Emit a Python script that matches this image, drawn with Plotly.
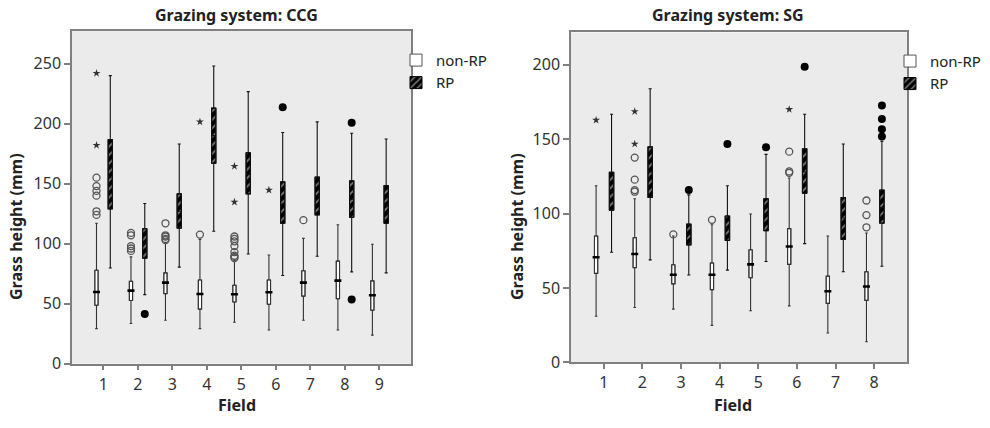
import plotly.graph_objects as go

# ---------------- data: CCG ----------------
ccg_fields = [1, 2, 3, 4, 5, 6, 7, 8, 9]
ccg_non_q1 = [48.7, 52.7, 58.4, 45.5, 51.4, 49.5, 56.3, 54.1, 44.6]
ccg_non_med = [59.7, 60.9, 67.6, 58.1, 57.9, 59.5, 67.6, 69.2, 57.0]
ccg_non_q3 = [77.9, 68.7, 75.7, 69.8, 65.4, 69.8, 77.4, 85.5, 69.0]
ccg_non_lo = [29.2, 33.5, 36.2, 29.2, 34.6, 28.1, 36.2, 28.1, 23.8]
ccg_non_hi = [117.0, 89.0, 101.0, 103.6, 86.5, 90.6, 104.4, 115.8, 99.5]

ccg_rp_q1 = [129.0, 88.0, 113.0, 167.0, 141.5, 117.0, 124.0, 122.0, 117.0]
ccg_rp_med = [155.0, 100.0, 127.0, 190.0, 158.0, 133.0, 140.0, 137.0, 132.0]
ccg_rp_q3 = [186.7, 112.5, 141.5, 213.0, 175.8, 151.5, 155.5, 152.3, 148.5]
ccg_rp_lo = [79.8, 57.6, 80.5, 110.4, 91.4, 73.5, 89.5, 76.5, 75.7]
ccg_rp_hi = [240.0, 133.5, 183.0, 248.0, 226.7, 192.6, 201.5, 192.0, 187.2]

ccg_circ_field = [1, 1, 1, 1, 1, 1, 2, 2, 2, 2, 2, 3, 3, 3, 3, 3, 4,
                  5, 5, 5, 5, 5, 5, 5, 5, 7]
ccg_circ_value = [155, 148, 144, 140, 127, 124, 109, 107, 98, 96, 94,
                  117, 107, 106, 104, 103, 107.6,
                  106, 104, 102, 98, 93, 90, 89, 88, 119.6]
ccg_star_field = [1, 1, 4, 5, 5, 6]
ccg_star_value = [242, 182, 201.5, 164.5, 134.7, 144.7]
ccg_dot_field = [2, 6, 8, 8]
ccg_dot_value = [41.4, 213.7, 200.7, 53.6]

# ---------------- data: SG ----------------
sg_fields = [1, 2, 3, 4, 5, 6, 7, 8]
sg_non_q1 = [59.8, 63.7, 52.8, 48.9, 56.9, 65.9, 39.7, 41.7]
sg_non_med = [70.7, 72.9, 58.9, 58.9, 65.9, 77.9, 47.8, 51.0]
sg_non_q3 = [84.9, 83.8, 65.6, 66.8, 75.7, 89.9, 58.0, 60.9]
sg_non_lo = [31.0, 36.9, 35.8, 24.9, 34.7, 38.0, 19.8, 13.9]
sg_non_hi = [118.7, 110.0, 84.9, 92.5, 99.7, 123.9, 84.9, 87.0]

sg_rp_q1 = [102.3, 110.8, 79.0, 82.0, 88.5, 113.7, 82.7, 93.6]
sg_rp_med = [115.0, 128.0, 86.0, 90.0, 100.0, 128.0, 97.0, 104.0]
sg_rp_q3 = [127.8, 144.8, 92.9, 98.4, 110.0, 143.5, 110.8, 115.8]
sg_rp_lo = [74.0, 68.9, 58.7, 62.0, 67.8, 79.8, 60.9, 64.6]
sg_rp_hi = [166.7, 183.9, 112.6, 118.7, 139.8, 166.7, 146.8, 148.6]

sg_circ_field = [2, 2, 2, 2, 3, 4, 6, 6, 6, 8, 8, 8]
sg_circ_value = [137.6, 122.8, 115.8, 114.7, 86, 95.8, 141.6, 128.3, 127.4,
                 108.8, 99, 90.8]
sg_star_field = [1, 2, 2, 6]
sg_star_value = [162.8, 168.6, 146.8, 170]
sg_dot_field = [3, 4, 5, 6, 8, 8, 8, 8]
sg_dot_value = [115.8, 146.8, 144.6, 198.7, 172.6, 163.6, 156.6, 151.8]

# ---------------- figure ----------------
W, H = 990, 428
FONT = "Noto Sans"
TXT = "#222222"
AXC = "#808080"
OFF = 0.2

fig = go.Figure()


def px(xp):
    return xp / W


def py(yp):
    return 1 - yp / H


def add_panel(fields, nq1, nmed, nq3, nlo, nhi, rq1, rmed, rq3, rlo, rhi,
              cf, cv, sf, sv, df, dv, xa, ya, leg, wn, wr):
    xn = [f - OFF for f in fields]
    xr = [f + OFF for f in fields]
    # box bodies as bars (for hatching and legend)
    fig.add_trace(go.Bar(
        x=xn, y=[b - a for a, b in zip(nq1, nq3)], base=nq1, width=wn,
        marker=dict(color="white", line=dict(color="#555555", width=1)),
        name="non-RP", legend=leg, xaxis=xa, yaxis=ya, showlegend=True))
    fig.add_trace(go.Bar(
        x=xr, y=[b - a for a, b in zip(rq1, rq3)], base=rq1, width=wr,
        marker=dict(color="black", line=dict(color="black", width=1),
                    pattern=dict(shape="/", fgcolor="white", bgcolor="black",
                                 size=6, solidity=0.3)),
        name="RP", legend=leg, xaxis=xa, yaxis=ya, showlegend=True))
    # whiskers
    fig.add_trace(go.Box(
        x=xn, q1=nq1, median=nmed, q3=nq3, lowerfence=nlo, upperfence=nhi,
        width=wn, whiskerwidth=0.8, fillcolor="rgba(0,0,0,0)",
        line=dict(color="#333333", width=1.1), boxpoints=False,
        xaxis=xa, yaxis=ya, showlegend=False, hoverinfo="skip"))
    fig.add_trace(go.Box(
        x=xr, q1=rq1, median=rmed, q3=rq3, lowerfence=rlo, upperfence=rhi,
        width=wr, whiskerwidth=0.7, fillcolor="rgba(0,0,0,0)",
        line=dict(color="#111111", width=1.1), boxpoints=False,
        xaxis=xa, yaxis=ya, showlegend=False, hoverinfo="skip"))
    # thick medians for non-RP
    fig.add_trace(go.Scatter(
        x=xn, y=nmed, mode="markers",
        marker=dict(symbol="line-ew-open", size=5, color="black",
                    line=dict(color="black", width=2.6)),
        xaxis=xa, yaxis=ya, showlegend=False, hoverinfo="skip"))
    # outliers
    fig.add_trace(go.Scatter(
        x=[f - OFF for f in cf], y=cv, mode="markers",
        marker=dict(symbol="circle-open", size=7, color="#555555",
                    line=dict(color="#555555", width=1.3)),
        xaxis=xa, yaxis=ya, showlegend=False, hoverinfo="skip"))
    fig.add_trace(go.Scatter(
        x=[f - OFF for f in sf], y=sv, mode="markers",
        marker=dict(symbol="star", size=6, color="#333333"),
        xaxis=xa, yaxis=ya, showlegend=False, hoverinfo="skip"))
    fig.add_trace(go.Scatter(
        x=[f + OFF for f in df], y=dv, mode="markers",
        marker=dict(symbol="circle", size=8, color="black"),
        xaxis=xa, yaxis=ya, showlegend=False, hoverinfo="skip"))


add_panel(ccg_fields, ccg_non_q1, ccg_non_med, ccg_non_q3, ccg_non_lo, ccg_non_hi,
          ccg_rp_q1, ccg_rp_med, ccg_rp_q3, ccg_rp_lo, ccg_rp_hi,
          ccg_circ_field, ccg_circ_value, ccg_star_field, ccg_star_value,
          ccg_dot_field, ccg_dot_value, "x", "y", "legend", 0.095, 0.125)
add_panel(sg_fields, sg_non_q1, sg_non_med, sg_non_q3, sg_non_lo, sg_non_hi,
          sg_rp_q1, sg_rp_med, sg_rp_q3, sg_rp_lo, sg_rp_hi,
          sg_circ_field, sg_circ_value, sg_star_field, sg_star_value,
          sg_dot_field, sg_dot_value, "x2", "y2", "legend2", 0.085, 0.115)

axis_common = dict(showline=True, mirror=True, linecolor=AXC, linewidth=1.5,
                   ticks="outside", tickcolor=AXC, tickwidth=1.5,
                   showgrid=False, zeroline=False,
                   tickfont=dict(family=FONT, size=16, color="#333333"))

fig.update_layout(
    width=W, height=H,
    margin=dict(l=0, r=0, t=0, b=0),
    paper_bgcolor="white", plot_bgcolor="#ebebeb",
    barmode="overlay", boxmode="overlay",
    font=dict(family=FONT, color=TXT),
    xaxis=dict(domain=[px(72), px(411)], range=[0.09, 9.92],
               tickvals=ccg_fields, ticklen=5, anchor="y", **axis_common),
    yaxis=dict(domain=[py(373.3), py(31.7)], range=[0, 277.3],
               tickvals=[0, 50, 100, 150, 200, 250], ticklen=6, anchor="x",
               **axis_common),
    xaxis2=dict(domain=[px(571), px(907)], range=[0.15, 8.85],
                tickvals=sg_fields, ticklen=5, anchor="y2", **axis_common),
    yaxis2=dict(domain=[py(372), py(33.3)], range=[0, 221.7],
                tickvals=[0, 50, 100, 150, 200], ticklen=6, anchor="x2",
                **axis_common),
    legend=dict(x=px(396), y=py(45), xanchor="left", yanchor="top",
                font=dict(family=FONT, size=15, color=TXT),
                bgcolor="rgba(0,0,0,0)", tracegroupgap=0),
    legend2=dict(x=px(890), y=py(46), xanchor="left", yanchor="top",
                 font=dict(family=FONT, size=15, color=TXT),
                 bgcolor="rgba(0,0,0,0)", tracegroupgap=0),
)

ann = []
ann.append(dict(text="<b>Grazing system: CCG</b>", x=px(236), y=py(15),
                font=dict(size=16)))
ann.append(dict(text="<b>Grazing system: SG</b>", x=px(728), y=py(15),
                font=dict(size=16)))
ann.append(dict(text="<b>Field</b>", x=px(237), y=py(416), font=dict(size=16)))
ann.append(dict(text="<b>Field</b>", x=px(733), y=py(416), font=dict(size=16)))
ann.append(dict(text="<b>Grass height (mm)</b>", x=px(16), y=py(233),
                textangle=-90, font=dict(size=16)))
ann.append(dict(text="<b>Grass height (mm)</b>", x=px(517), y=py(233),
                textangle=-90, font=dict(size=16)))
for a in ann:
    a.update(xref="paper", yref="paper", showarrow=False,
             xanchor="center", yanchor="middle")
    a["font"].update(family=FONT, color=TXT)
fig.update_layout(annotations=ann)

fig.write_html("out.html",
               config={"displayModeBar": False},
               post_script="document.body.style.margin='0';")
